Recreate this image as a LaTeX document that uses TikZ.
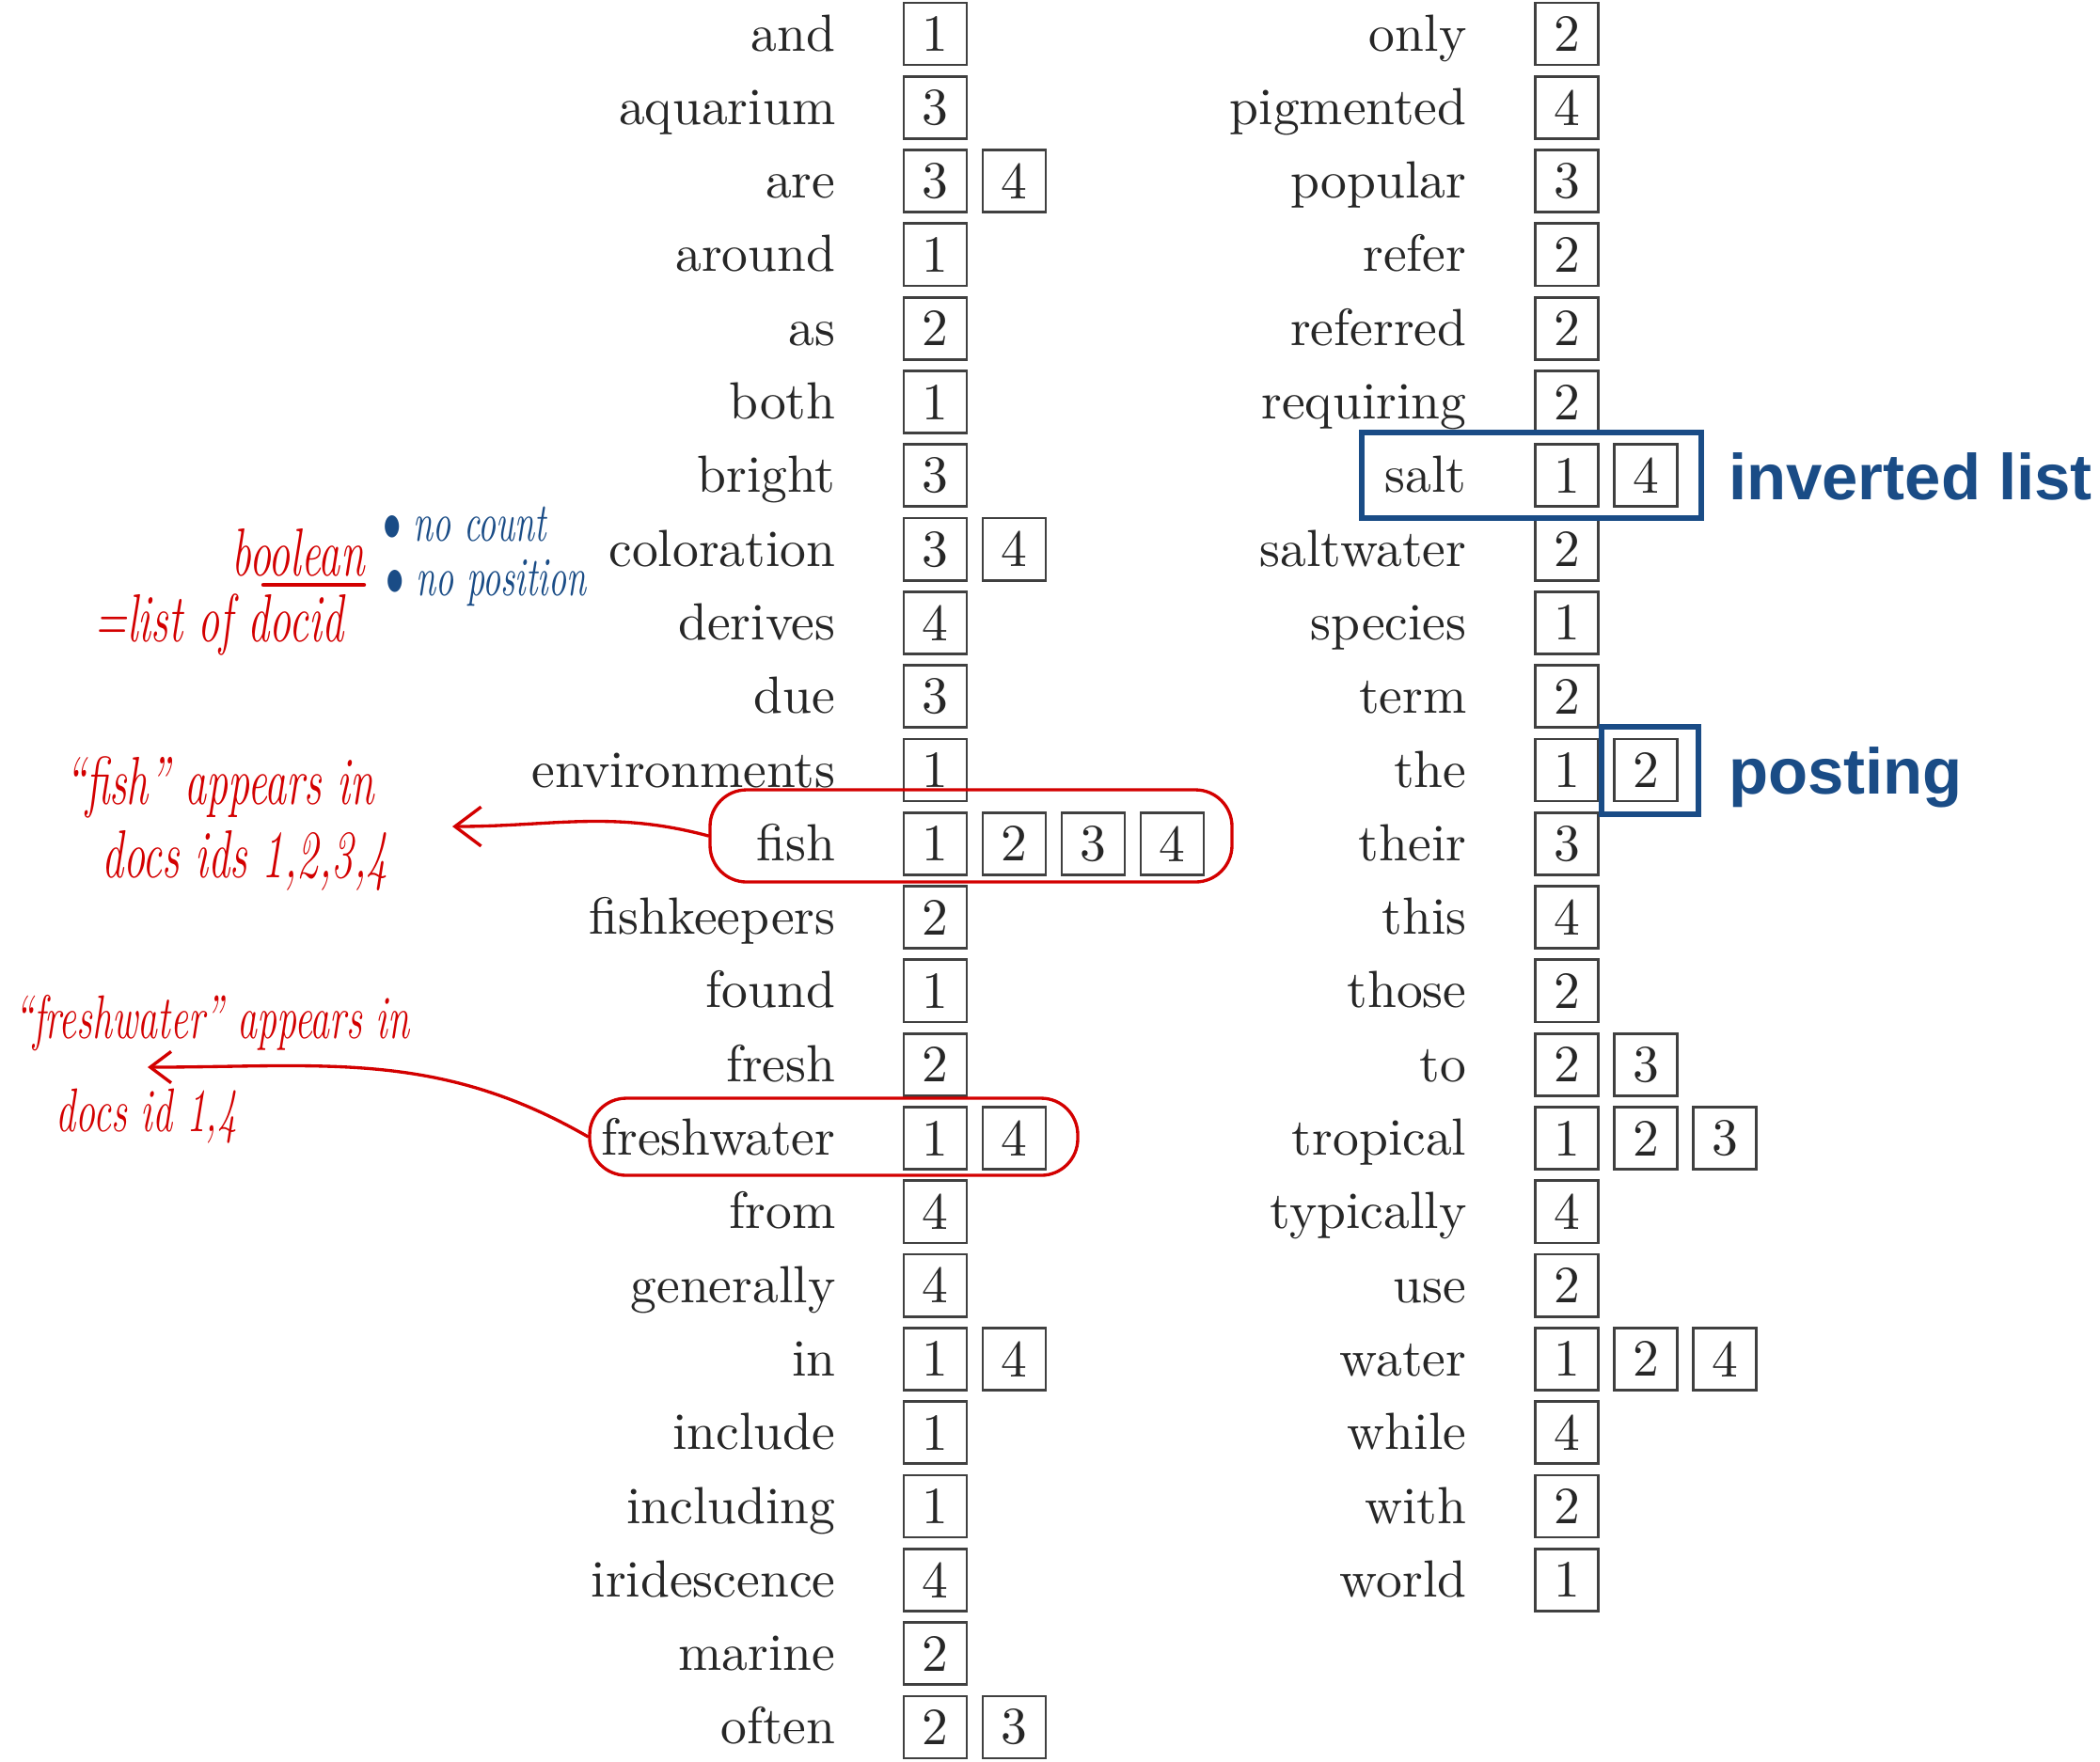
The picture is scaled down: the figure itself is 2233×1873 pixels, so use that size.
\documentclass[tikz,border=0pt]{standalone}
\usepackage{fontspec}
\usepackage{graphicx}
\usetikzlibrary{arrows.meta,fit}
\newfontfamily\tagfont{Liberation Sans}
\definecolor{penred}{HTML}{D30000}
\definecolor{penblue}{HTML}{1A4C86}
\newcommand{\hw}[1]{\scalebox{0.64}[1]{#1}}
\tikzset{
  word/.style={text=black!85, inner sep=1pt, anchor=base east},
  idbox/.style={draw=black!75, line width=0.5pt, minimum width=12.06pt,
    minimum height=11.9pt, inner sep=0pt, text=black!85},
  ring/.style={draw=penred, line width=0.6pt, rounded corners=7pt, inner sep=0pt},
  pen/.style={draw=penred, line width=0.6pt, line cap=round},
  hand/.style={text=penred, font=\fontsize{13}{14.2}\selectfont\itshape, inner sep=0pt},
  bluehand/.style={text=penblue, font=\fontsize{10.5}{12}\selectfont\itshape, inner sep=0pt},
  hilite/.style={draw=penblue, line width=1.1pt, inner sep=0pt},
  bluetag/.style={text=penblue, font=\tagfont\bfseries\fontsize{12.4}{14}\selectfont,
    inner sep=0pt, anchor=base west},
}
\begin{document}
\begin{tikzpicture}[x=0.18pt,y=-0.18pt]
  \useasboundingbox (0,0) rectangle (2233,1873);
  % left column of the index
  \foreach \w/\ids [count=\i] in {and/1,aquarium/3,are/{3,4},around/1,as/2,both/1,
      bright/3,coloration/{3,4},derives/4,due/3,environments/1,fish/{1,2,3,4},
      fishkeepers/2,found/1,fresh/2,freshwater/{1,4},from/4,generally/4,in/{1,4},
      include/1,including/1,iridescence/4,marine/2,often/{2,3}}{
    \node[word] (L\i) at (895,{36+78.3*(\i-1)+18}) {\w};
    \foreach \d [count=\j] in \ids
      \node[idbox] (L\i-\j) at ({994.5+84*(\j-1)},{36+78.3*(\i-1)}) {\d};
  }
  % right column of the index
  \foreach \w/\ids [count=\i] in {only/2,pigmented/4,popular/3,refer/2,referred/2,
      requiring/2,salt/{1,4},saltwater/2,species/1,term/2,the/{1,2},their/3,this/4,
      those/2,to/{2,3},tropical/{1,2,3},typically/4,use/2,water/{1,2,4},while/4,
      with/2,world/1}{
    \node[word] (R\i) at (1566,{36+78.3*(\i-1)+18}) {\w};
    \foreach \d [count=\j] in \ids
      \node[idbox] (R\i-\j) at ({1666+84*(\j-1)},{36+78.3*(\i-1)}) {\d};
  }
  % blue highlights
  \node[hilite, fit={(1448,460) (1809,551)}] (saltlist) {};
  \node[hilite, fit={(1703,773) (1806,866)}] (thepost) {};
  \node[bluetag] (invtag) at (1837,531) {inverted list};
  \node[bluetag] (posttag) at (1837,844) {posting};
  % handwritten notes
  \node[hand, anchor=base] (boolnote) at (317,612) {\hw{boolean}};
  \draw[pen, line width=0.8pt] (280,622) -- (387,622);
  \node[hand, anchor=base] (docidnote) at (233,682) {\hw{=list of docid}};
  \node[bluehand, anchor=base west] (countnote) at (406,575) {\hw{$\bullet$ no count}};
  \node[bluehand, anchor=base west] (posnote) at (409,633) {\hw{$\bullet$ no position}};
  \node[ring, fit={(755,840) (1310,938)}] (fishring) {};
  \node[ring, fit={(627,1168) (1146,1250)}] (freshring) {};
  \node[hand, align=left, anchor=west] (fishnote) at (68,876)
    {\hw{``fish'' appears in}\\\hspace*{7pt}\hw{docs ids 1,2,3,4}};
  \node[hand, align=left, anchor=west, font=\fontsize{11.8}{17.8}\selectfont\itshape]
    (freshnote) at (14,1137)
    {\hw{``freshwater'' appears in}\\\hspace*{8pt}\hw{docs id 1,4}};
  \coordinate (fishtip) at (481,879);
  \coordinate (freshtip) at (157,1135);
  \draw[pen, -{Straight Barb[length=5pt,width=7.5pt]}] (fishring.west) to[out=165,in=0] (fishtip);
  \draw[pen, -{Straight Barb[length=4pt,width=6pt]}] (freshring.west) to[out=150,in=0] (freshtip);
\end{tikzpicture}
\end{document}
